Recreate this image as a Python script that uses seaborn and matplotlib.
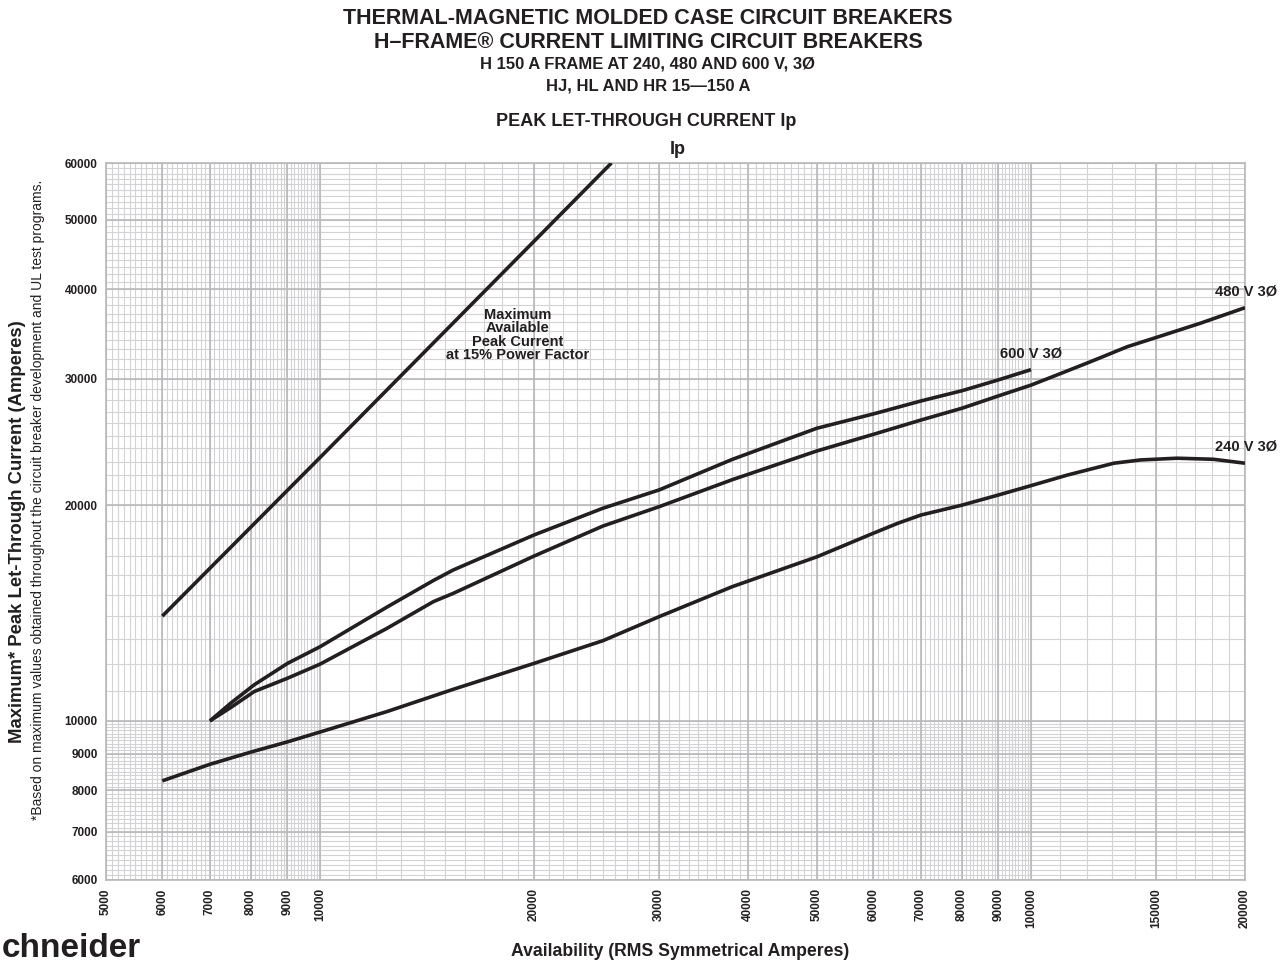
import numpy as np
import pandas as pd
import matplotlib
matplotlib.use("Agg")
import matplotlib.pyplot as plt
import seaborn as sns

# ---------------- data ----------------
max_x = [6000, 10000, 25700]
max_y = [14000, 23300, 60000]

v600_x = [7000, 7500, 8080, 9000, 10000, 12400, 14440, 15400, 20000, 25000, 30000, 38000,
          50000, 60000, 70000, 80000, 90000, 100000]
v600_y = [10000, 10600, 11230, 12030, 12690, 14400, 15700, 16240, 18170, 19800, 21000, 23160,
          25600, 26800, 27940, 28880, 29900, 30900]

v480_x = [7000, 7500, 8080, 9000, 10000, 12400, 14440, 15400, 20000, 25000, 30000, 38000,
          50000, 60000, 70000, 80000, 90000, 100000, 110200, 121300, 136600, 151100,
          173000, 200000]
v480_y = [10000, 10450, 10990, 11470, 12000, 13450, 14670, 15065, 16980, 18700, 19900, 21700,
          23800, 25100, 26280, 27300, 28400, 29400, 30530, 31700, 33260, 34340,
          35860, 37700]

v240_x = [6000, 7000, 8000, 9000, 10000, 12400, 15400, 20000, 25000, 30000, 38000,
          50000, 60000, 65000, 70000, 80000, 90000, 100000, 112600, 130800, 142600,
          160500, 180600, 200000]
v240_y = [8250, 8700, 9050, 9350, 9650, 10300, 11070, 12030, 12940, 13980, 15390,
          16940, 18270, 18870, 19370, 20000, 20660, 21290, 22030, 22880, 23120,
          23250, 23170, 22880]

x_ticks = [5000, 6000, 7000, 8000, 9000, 10000, 20000, 30000, 40000, 50000, 60000,
           70000, 80000, 90000, 100000, 150000, 200000]
y_ticks = [6000, 7000, 8000, 9000, 10000, 20000, 30000, 40000, 50000, 60000]

# ---------------- style ----------------
sns.set_theme(style="white")
plt.rcParams["font.family"] = ["Liberation Sans", "DejaVu Sans"]

W, H = 1288, 966
fig = plt.figure(figsize=(W / 100, H / 100), dpi=100)
ax = fig.add_axes([106 / W, 1 - 880 / H, (1245 - 106) / W, (880 - 163) / H])

ax.set_xscale("log")
ax.set_yscale("log")
ax.set_xlim(5000, 200000)
ax.set_ylim(6000, 60000)

# graph-paper grid
minor_x = list(range(5000, 10000, 100)) + list(range(10000, 100000, 1000)) + list(range(100000, 200001, 10000))
minor_y = list(range(6000, 10000, 100)) + list(range(10000, 60001, 1000))
for v in minor_x:
    ax.axvline(v, color="#d3d3d5", lw=0.8, zorder=0)
for v in minor_y:
    ax.axhline(v, color="#d3d3d5", lw=0.8, zorder=0)
for v in x_ticks:
    ax.axvline(v, color="#b9b9bc", lw=1.2, zorder=0)
for v in y_ticks:
    ax.axhline(v, color="#b9b9bc", lw=1.2, zorder=0)

lc = "#231f20"
lw = 2.6
curves = [("max", max_x, max_y), ("600", v600_x, v600_y),
          ("480", v480_x, v480_y), ("240", v240_x, v240_y)]
for name, xs, ys in curves:
    df = pd.DataFrame({"x": xs, "y": ys})
    sns.lineplot(data=df, x="x", y="y", ax=ax, color=lc, lw=lw, sort=False,
                 estimator=None, zorder=3, solid_capstyle="butt")

ax.set_xticks(x_ticks)
ax.set_xticklabels([str(v) for v in x_ticks], rotation=90, fontsize=8.5, fontweight="bold")
ax.set_yticks(y_ticks)
ax.set_yticklabels([str(v) for v in y_ticks], fontsize=8.5, fontweight="bold")
ax.minorticks_off()
ax.tick_params(axis="both", length=0, pad=6, colors="#231f20")
for s in ax.spines.values():
    s.set_color("#b9b9bc")
    s.set_linewidth(1.2)
ax.set_xlabel("")
ax.set_ylabel("")

# curve labels
fig.text(1277 / W, 1 - 291 / H, "480 V 3Ø", ha="right", va="center", fontsize=10.5,
         fontweight="bold", color=lc)
fig.text(1062 / W, 1 - 354 / H, "600 V 3Ø", ha="right", va="center", fontsize=10.5,
         fontweight="bold", color=lc)
fig.text(1277 / W, 1 - 447 / H, "240 V 3Ø", ha="right", va="center", fontsize=10.5,
         fontweight="bold", color=lc)
fig.text(518 / W, 1 - 335 / H, "Maximum\nAvailable\nPeak Current\nat 15% Power Factor",
         ha="center", va="center", fontsize=10.5, fontweight="bold", color=lc, linespacing=0.92)

# titles
tc = 648 / W
fig.text(tc, 1 - 18 / H, "THERMAL-MAGNETIC MOLDED CASE CIRCUIT BREAKERS", ha="center", va="center",
         fontsize=15.5, fontweight="bold", color=lc)
fig.text(tc, 1 - 42 / H, "H–FRAME® CURRENT LIMITING CIRCUIT BREAKERS", ha="center", va="center",
         fontsize=15.5, fontweight="bold", color=lc)
fig.text(tc, 1 - 64 / H, "H 150 A FRAME AT 240, 480 AND 600 V, 3Ø", ha="center", va="center",
         fontsize=12, fontweight="bold", color=lc)
fig.text(tc, 1 - 86 / H, "HJ, HL AND HR 15—150 A", ha="center", va="center",
         fontsize=12, fontweight="bold", color=lc)
fig.text(646 / W, 1 - 122 / H, "PEAK LET-THROUGH CURRENT Ip", ha="center", va="center",
         fontsize=13, fontweight="bold", color=lc)
fig.text(678 / W, 1 - 149 / H, "Ip", ha="center", va="center",
         fontsize=13, fontweight="bold", color=lc)

# axis labels
fig.text(18 / W, 1 - 532 / H, "Maximum* Peak Let-Through Current (Amperes)", rotation=90,
         ha="center", va="center", fontsize=13.3, fontweight="bold", color=lc)
fig.text(38 / W, 1 - 500 / H,
         "*Based on maximum values obtained throughout the circuit breaker development and UL test programs.",
         rotation=90, ha="center", va="center", fontsize=10, color=lc)
fig.text(680 / W, 1 - 951 / H, "Availability (RMS Symmetrical Amperes)", ha="center", va="center",
         fontsize=12.7, fontweight="bold", color=lc)

# logo fragment
fig.text(2 / W, 2 / H, "chneider", ha="left", va="bottom", fontsize=24,
         fontweight="bold", color="#231f20")

fig.savefig("out.png", dpi=100)
